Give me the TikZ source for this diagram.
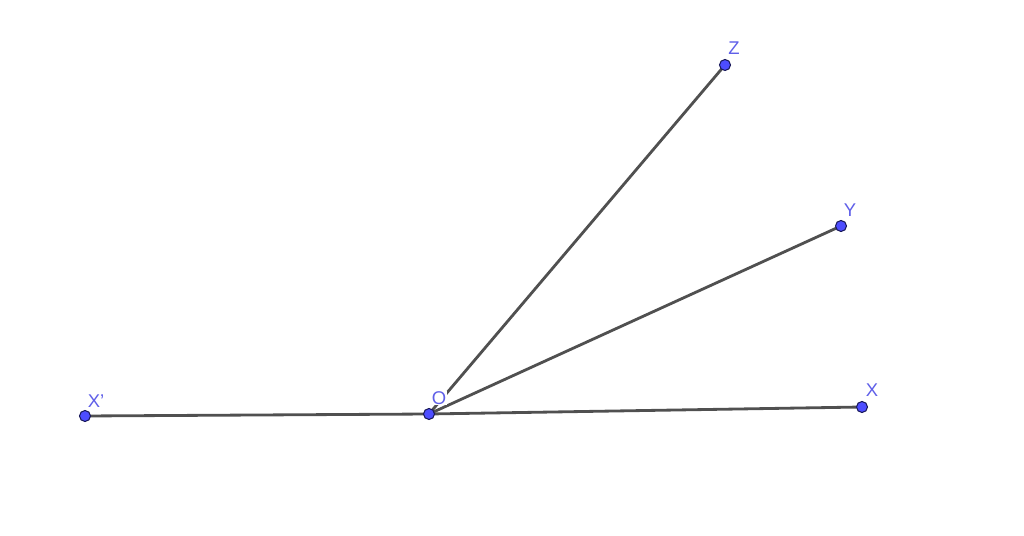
\documentclass[tikz,border=0pt]{standalone}
\usepackage{fontspec}
\setmainfont{Liberation Sans}
\usetikzlibrary{calc}

\definecolor{ptfill}{HTML}{4D4DFF}
\definecolor{ptline}{HTML}{1A1A5C}
\definecolor{lblblue}{HTML}{5F5FE8}
\definecolor{segline}{HTML}{505050}

\begin{document}
\begin{tikzpicture}[x=0.02cm,y=-0.02cm,
  seg/.style={segline,line width=1.6pt},
  pt/.style={fill=ptfill,draw=ptline,line width=0.6pt},
  lbl/.style={text=lblblue,font=\fontsize{10.5}{12}\selectfont,inner sep=0.5pt}]

  \useasboundingbox (0,0) rectangle (1024,536);

  % points
  \coordinate (Xp) at (85,416);
  \coordinate (O)  at (429,414);
  \coordinate (X)  at (862,407);
  \coordinate (Y)  at (841,226);
  \coordinate (Z)  at (725,65);

  % rays
  \draw [seg] (Xp) -- (O);
  \draw [seg] (O) -- (X);
  \draw [seg] (O) -- (Y);
  \draw [seg] (O) -- (Z);

  % labels (O hides part of the ray to Z)
  \node [lbl] (lXp) at (96,401) {X'};
  \node [lbl,fill=white] (lO)  at (439,398) {O};
  \node [lbl] (lX)  at (872,390) {X};
  \node [lbl] (lY)  at (850,210) {Y};
  \node [lbl] (lZ)  at (734,48) {Z};

  % dots
  \filldraw [pt] (Xp) circle [radius=5.5];
  \filldraw [pt] (O)  circle [radius=5.5];
  \filldraw [pt] (X)  circle [radius=5.5];
  \filldraw [pt] (Y)  circle [radius=5.5];
  \filldraw [pt] (Z)  circle [radius=5.5];
\end{tikzpicture}
\end{document}
